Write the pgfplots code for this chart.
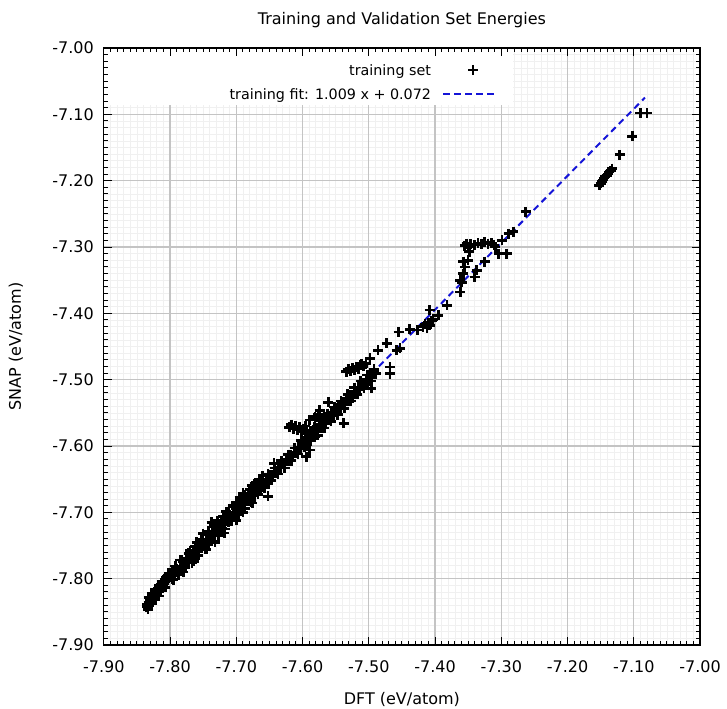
\documentclass[border=0pt]{standalone}
\usepackage{fontspec}
\setmainfont{DejaVu Sans}
\usepackage{pgfplots}
\usepackage{pgfplotstable}
\pgfplotsset{compat=1.18}
\definecolor{majgrid}{RGB}{196,196,196}
\definecolor{mingrid}{RGB}{240,240,240}
\definecolor{fitblue}{RGB}{20,20,215}
\pgfplotsset{
  markleg/.style={legend image code/.code={\draw[##1] plot coordinates {(30bp,0bp)};}},
  lineleg/.style={legend image code/.code={\draw[##1] (0bp,0bp) -- (54bp,0bp);}},
}
\pgfplotstableread{
x y
-7.835 -7.842
-7.834 -7.838
-7.833 -7.846
-7.832 -7.835
-7.831 -7.841
-7.830 -7.832
-7.829 -7.837
-7.828 -7.829
-7.827 -7.834
-7.826 -7.826
-7.825 -7.831
-7.824 -7.823
-7.823 -7.828
-7.822 -7.820
-7.821 -7.825
-7.820 -7.817
-7.819 -7.822
-7.818 -7.814
-7.817 -7.819
-7.816 -7.811
-7.815 -7.816
-7.814 -7.809
-7.813 -7.813
-7.812 -7.806
-7.811 -7.810
-7.810 -7.804
-7.809 -7.808
-7.808 -7.801
-7.807 -7.805
-7.806 -7.799
-7.805 -7.803
-7.804 -7.797
-7.803 -7.800
-7.802 -7.794
-7.801 -7.798
-7.800 -7.792
-7.799 -7.796
-7.797 -7.790
-7.795 -7.802
-7.790 -7.790
-7.796 -7.792
-7.793 -7.795
-7.790 -7.785
-7.788 -7.790
-7.785 -7.781
-7.782 -7.784
-7.780 -7.775
-7.778 -7.779
-7.775 -7.771
-7.772 -7.774
-7.770 -7.764
-7.768 -7.769
-7.765 -7.760
-7.762 -7.764
-7.760 -7.754
-7.758 -7.759
-7.755 -7.750
-7.752 -7.754
-7.750 -7.744
-7.748 -7.749
-7.745 -7.740
-7.742 -7.745
-7.740 -7.734
-7.738 -7.739
-7.735 -7.730
-7.732 -7.735
-7.730 -7.724
-7.728 -7.729
-7.725 -7.720
-7.722 -7.724
-7.720 -7.714
-7.718 -7.719
-7.715 -7.710
-7.712 -7.714
-7.710 -7.704
-7.708 -7.709
-7.705 -7.700
-7.702 -7.704
-7.700 -7.694
-7.698 -7.699
-7.695 -7.690
-7.692 -7.694
-7.690 -7.684
-7.688 -7.689
-7.685 -7.680
-7.682 -7.683
-7.680 -7.674
-7.678 -7.679
-7.675 -7.670
-7.672 -7.673
-7.670 -7.664
-7.668 -7.669
-7.665 -7.660
-7.662 -7.662
-7.660 -7.654
-7.657 -7.658
-7.654 -7.650
-7.651 -7.652
-7.648 -7.644
-7.645 -7.646
-7.642 -7.638
-7.639 -7.640
-7.636 -7.632
-7.633 -7.633
-7.630 -7.626
-7.627 -7.628
-7.624 -7.620
-7.621 -7.622
-7.618 -7.614
-7.615 -7.616
-7.612 -7.609
-7.609 -7.611
-7.606 -7.602
-7.603 -7.604
-7.600 -7.597
-7.832 -7.828
-7.827 -7.838
-7.822 -7.816
-7.817 -7.826
-7.812 -7.804
-7.807 -7.813
-7.802 -7.792
-7.797 -7.801
-7.792 -7.781
-7.787 -7.794
-7.782 -7.772
-7.777 -7.783
-7.772 -7.762
-7.767 -7.776
-7.762 -7.752
-7.757 -7.765
-7.752 -7.744
-7.747 -7.755
-7.742 -7.733
-7.737 -7.743
-7.732 -7.722
-7.727 -7.735
-7.722 -7.712
-7.717 -7.725
-7.712 -7.703
-7.707 -7.713
-7.702 -7.692
-7.697 -7.704
-7.692 -7.682
-7.687 -7.694
-7.682 -7.672
-7.677 -7.684
-7.672 -7.663
-7.667 -7.673
-7.662 -7.652
-7.657 -7.663
-7.652 -7.642
-7.647 -7.652
-7.642 -7.633
-7.637 -7.642
-7.632 -7.622
-7.627 -7.633
-7.622 -7.613
-7.617 -7.622
-7.612 -7.603
-7.607 -7.612
-7.602 -7.592
-7.597 -7.602
-7.592 -7.582
-7.587 -7.592
-7.582 -7.572
-7.577 -7.584
-7.572 -7.562
-7.567 -7.573
-7.562 -7.551
-7.557 -7.563
-7.552 -7.541
-7.547 -7.553
-7.542 -7.532
-7.537 -7.543
-7.532 -7.522
-7.527 -7.532
-7.522 -7.512
-7.517 -7.522
-7.512 -7.502
-7.507 -7.513
-7.502 -7.493
-7.497 -7.502
-7.492 -7.484
-7.750 -7.732
-7.715 -7.699
-7.690 -7.671
-7.676 -7.660
-7.643 -7.626
-7.785 -7.772
-7.770 -7.758
-7.760 -7.745
-7.752 -7.740
-7.742 -7.728
-7.737 -7.715
-7.733 -7.718
-7.728 -7.713
-7.720 -7.706
-7.712 -7.700
-7.705 -7.690
-7.700 -7.685
-7.695 -7.678
-7.688 -7.674
-7.680 -7.666
-7.672 -7.657
-7.665 -7.650
-7.660 -7.645
-7.780 -7.790
-7.764 -7.774
-7.745 -7.756
-7.732 -7.745
-7.718 -7.731
-7.700 -7.712
-7.690 -7.700
-7.676 -7.686
-7.652 -7.676
-7.620 -7.572
-7.617 -7.568
-7.614 -7.574
-7.611 -7.570
-7.608 -7.576
-7.605 -7.571
-7.602 -7.578
-7.599 -7.574
-7.596 -7.570
-7.589 -7.561
-7.581 -7.556
-7.576 -7.552
-7.561 -7.534
-7.574 -7.546
-7.581 -7.559
-7.597 -7.593
-7.594 -7.596
-7.589 -7.606
-7.594 -7.616
-7.584 -7.576
-7.581 -7.586
-7.590 -7.586
-7.586 -7.580
-7.583 -7.584
-7.580 -7.574
-7.577 -7.578
-7.574 -7.568
-7.571 -7.572
-7.568 -7.562
-7.565 -7.566
-7.562 -7.556
-7.559 -7.560
-7.556 -7.550
-7.553 -7.554
-7.550 -7.543
-7.548 -7.548
-7.545 -7.539
-7.542 -7.543
-7.540 -7.534
-7.537 -7.538
-7.534 -7.528
-7.531 -7.532
-7.528 -7.523
-7.525 -7.527
-7.522 -7.517
-7.519 -7.521
-7.516 -7.511
-7.513 -7.515
-7.510 -7.505
-7.507 -7.509
-7.504 -7.499
-7.501 -7.503
-7.498 -7.493
-7.495 -7.497
-7.492 -7.487
-7.489 -7.491
-7.538 -7.566
-7.496 -7.513
-7.534 -7.488
-7.531 -7.484
-7.528 -7.487
-7.525 -7.482
-7.522 -7.486
-7.519 -7.481
-7.516 -7.484
-7.512 -7.478
-7.508 -7.480
-7.504 -7.476
-7.498 -7.468
-7.486 -7.456
-7.511 -7.476
-7.468 -7.481
-7.468 -7.491
-7.458 -7.456
-7.453 -7.453
-7.473 -7.445
-7.455 -7.428
-7.438 -7.424
-7.426 -7.425
-7.418 -7.420
-7.415 -7.416
-7.412 -7.422
-7.410 -7.414
-7.408 -7.418
-7.405 -7.411
-7.403 -7.409
-7.408 -7.395
-7.395 -7.403
-7.382 -7.388
-7.362 -7.368
-7.362 -7.350
-7.360 -7.353
-7.357 -7.340
-7.357 -7.322
-7.355 -7.330
-7.350 -7.320
-7.348 -7.307
-7.340 -7.345
-7.337 -7.335
-7.325 -7.322
-7.355 -7.298
-7.352 -7.295
-7.349 -7.300
-7.346 -7.296
-7.340 -7.297
-7.335 -7.294
-7.330 -7.296
-7.325 -7.293
-7.320 -7.295
-7.315 -7.294
-7.311 -7.297
-7.309 -7.300
-7.299 -7.290
-7.304 -7.310
-7.292 -7.310
-7.289 -7.280
-7.282 -7.277
-7.263 -7.247
-7.152 -7.207
-7.150 -7.204
-7.148 -7.201
-7.146 -7.199
-7.145 -7.196
-7.143 -7.194
-7.141 -7.192
-7.139 -7.190
-7.137 -7.187
-7.135 -7.185
-7.133 -7.182
-7.121 -7.161
-7.102 -7.133
-7.090 -7.098
-7.080 -7.098
}\trainset
\pgfplotstableread{
x y
-7.835 -7.8335
-7.083 -7.0747
}\fitline
\begin{document}
\begin{tikzpicture}
\pgfplotsset{
  common/.style={
    scale only axis, width=596.25bp, height=597bp,
    xmin=-7.9, xmax=-7.0, ymin=-7.9, ymax=-7.0,
    xtick={-7.9,-7.8,-7.7,-7.6,-7.5,-7.4,-7.3,-7.2,-7.1,-7.0},
    ytick={-7.9,-7.8,-7.7,-7.6,-7.5,-7.4,-7.3,-7.2,-7.1,-7.0},
    minor tick num=9,
  },
  gridonly/.style={
    axis line style={draw=none},
    tick style={draw=none},
    xticklabels={}, yticklabels={},
  },
}
% minor grid
\begin{axis}[common, gridonly,
  grid=minor,
  minor grid style={mingrid, line width=0.6bp},
]
\end{axis}
% major grid
\begin{axis}[common, gridonly,
  grid=major,
  major grid style={majgrid, line width=1.4bp},
]
\end{axis}
% main axis
\begin{axis}[common,
  axis on top,
  tick align=inside,
  tick pos=both,
  major tick length=8bp, minor tick length=4bp,
  axis line style={black, line width=1.2bp},
  tick style={black, line width=1bp},
  xticklabels={-7.90,-7.80,-7.70,-7.60,-7.50,-7.40,-7.30,-7.20,-7.10,-7.00},
  yticklabels={-7.90,-7.80,-7.70,-7.60,-7.50,-7.40,-7.30,-7.20,-7.10,-7.00},
  tick label style={font=\fontsize{16bp}{19bp}\selectfont},
  xticklabel style={anchor=base, yshift=-27.5bp},
  yticklabel style={anchor=east, xshift=-6.5bp},
  title={Training and Validation Set Energies},
  title style={at={(0.5,1)}, anchor=base, yshift=18bp, font=\fontsize{16bp}{19bp}\selectfont},
  xlabel={DFT (eV/atom)},
  xlabel style={at={(0.5,0)}, anchor=base, yshift=-59bp, font=\fontsize{16bp}{19bp}\selectfont},
  legend plot pos=right,
  legend cell align=right,
  legend style={at={(axis cs:-7.3049,-7.0214)}, anchor=north east,
    draw=none, fill=none, inner sep=0pt, outer sep=0pt,
    column sep=11bp, row sep=8.4bp,
    font=\fontsize{14.3bp}{17bp}\selectfont,
    nodes={inner sep=0pt, text height=13bp, text depth=2.6bp}},
]
\fill[white] (axis cs:-7.9,-7.0) rectangle (axis cs:-7.2823,-7.086);
\addplot[only marks, mark=+, black, mark size=5bp, line width=2.7bp,
  mark options={line width=2.7bp}, markleg]
  table[x=x,y=y] {\trainset};
\addlegendentry{training set}
\addplot[fitblue, line width=2bp, dash pattern=on 6.5bp off 4.5bp, mark=none, lineleg]
  table[x=x,y=y] {\fitline};
\addlegendentry{training fit: 1.009 x + 0.072}
\end{axis}
\node[rotate=90, anchor=base, font=\fontsize{16bp}{19bp}\selectfont] at ([xshift=-82.75bp]current axis.west) {SNAP (eV/atom)};
\pgfresetboundingbox
\path ([shift={(-103.75bp,-63bp)}]current axis.south west) rectangle ([shift={(27bp,48bp)}]current axis.north east);
\end{tikzpicture}
\end{document}
